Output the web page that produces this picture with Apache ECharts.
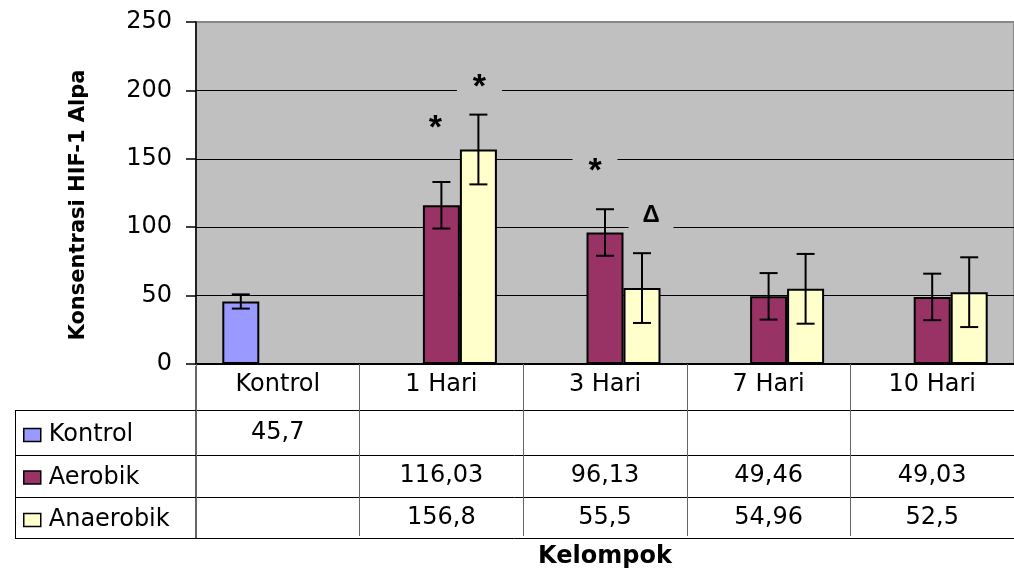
<!DOCTYPE html>
<html><head><meta charset="utf-8">
<script src="https://cdn.jsdelivr.net/npm/echarts@6/dist/echarts.min.js"></script>
<style>html,body{margin:0;padding:0;background:#fff}#c{width:1014px;height:574px}</style>
</head><body><div id="c"></div>
<script>
// ---- data ----
const categories = ['Kontrol', '1 Hari', '3 Hari', '7 Hari', '10 Hari'];
const seriesNames = ['Kontrol', 'Aerobik', 'Anaerobik'];
const kontrolValues = [45.7, null, null, null, null];
const aerobikValues = [null, 116.03, 96.13, 49.46, 49.03];
const anaerobikValues = [null, 156.8, 55.5, 54.96, 52.5];
const kontrolErr = [5.2, null, null, null, null];
const aerobikErr = [null, 17, 17, 17, 17];
const anaerobikErr = [null, 25.5, 25.5, 25.5, 25.5];
const yMin = 0, yMax = 250, yStep = 50;
const annotText = ['*', '*', '*', '\u0394'];
const annotCategory = [1, 1, 2, 2];
const annotSeries = [1, 2, 1, 2];
const annotLevel = [174, 204, 143, 109];

// ---- styles / layout ----
const FONT = 'DejaVu Sans';
const BAR_W = 37, CAP = 18;
const colors = ['#9999FF', '#993366', '#FFFFCC'];
const annotDx = [-6, 1, -10, 9];
const annotFont = [34, 34, 34, 24];
const annotDy = [3, 3, 3, 0];
const ROW_Y = [433, 476, 518];
const ROW_LINES = [410.5, 455.5, 497.5, 538.5];

const valueSets = [kontrolValues, aerobikValues, anaerobikValues];
const errSets = [kontrolErr, aerobikErr, anaerobikErr];

const errData = [];
const cellData = [];
valueSets.forEach((vals, k) => {
  vals.forEach((v, i) => {
    if (v == null) return;
    const e = errSets[k][i];
    if (e != null) errData.push([i, v - e, v + e, k]);
    cellData.push([i, v, k]);
  });
});
const annotData = annotText.map((t, j) => [annotCategory[j], annotLevel[j], annotSeries[j], j]);

const barSeries = seriesNames.map((name, k) => ({
  name, type: 'bar', data: valueSets[k], barWidth: BAR_W, barGap: '0%',
  itemStyle: { color: colors[k], borderColor: '#000', borderWidth: 2 },
  z: 2
}));

const chart = echarts.init(document.getElementById('c'), null, { renderer: 'canvas' });
chart.setOption({
  animation: false,
  backgroundColor: '#fff',
  grid: { left: 196, right: -2, top: 22, bottom: 208, show: true, backgroundColor: '#C0C0C0', borderColor: '#888', borderWidth: 2 },
  legend: {
    data: seriesNames, orient: 'vertical', left: 23, top: 423, padding: 0, itemGap: 18.5,
    itemWidth: 17, itemHeight: 13, icon: 'rect', selectedMode: false,
    itemStyle: { borderColor: '#000', borderWidth: 1.5 },
    textStyle: { fontFamily: FONT, fontSize: 24, color: '#000', padding: [0, 0, 0, 3] }
  },
  xAxis: {
    type: 'category', data: categories,
    axisLine: { lineStyle: { color: '#000', width: 2 } },
    axisTick: { show: true, length: 172, lineStyle: { color: '#666', width: 1 } },
    axisLabel: { fontFamily: FONT, fontSize: 24, color: '#000', margin: 9 },
    name: 'Kelompok', nameLocation: 'middle', nameGap: 181,
    nameTextStyle: { fontFamily: FONT, fontSize: 24, fontWeight: 'bold', color: '#000' }
  },
  yAxis: {
    type: 'value', min: yMin, max: yMax, interval: yStep,
    axisLine: { show: true, lineStyle: { color: '#000', width: 1.5 } },
    axisTick: { show: true, length: 10, lineStyle: { color: '#000', width: 1.5 } },
    axisLabel: { fontFamily: FONT, fontSize: 24, color: '#000', margin: 24 },
    splitLine: { show: true, showMaxLine: false, lineStyle: { color: '#000', width: 1 } }
  },
  graphic: [
    { type: 'text', x: 79, y: 205, rotation: Math.PI / 2,
      style: { text: 'Konsentrasi HIF-1 Alpa', fontFamily: FONT, fontSize: 21, fontWeight: 'bold', fill: '#000', textAlign: 'center', textVerticalAlign: 'middle' } },
    ...ROW_LINES.map(y => ({ type: 'line', shape: { x1: 15, y1: y, x2: 1014, y2: y }, style: { stroke: '#000', lineWidth: 1 } })),
    { type: 'line', shape: { x1: 15.5, y1: ROW_LINES[0], x2: 15.5, y2: ROW_LINES[3] }, style: { stroke: '#000', lineWidth: 1 } },
    { type: 'line', shape: { x1: 196, y1: 366, x2: 196, y2: ROW_LINES[3] }, style: { stroke: '#000', lineWidth: 1.2 } }
  ],
  series: [
    ...barSeries,
    {
      type: 'custom', name: 'err', data: errData, z: 3,
      encode: { x: 0, y: [1, 2] },
      renderItem: (params, api) => {
        const c = api.value(0), k = api.value(3);
        const lo = api.coord([c, api.value(1)]), hi = api.coord([c, api.value(2)]);
        const x = lo[0] + (k - 1) * BAR_W, h = CAP / 2;
        const st = { stroke: '#000', lineWidth: 2 };
        return { type: 'group', children: [
          { type: 'line', shape: { x1: x, y1: hi[1], x2: x, y2: lo[1] }, style: st },
          { type: 'line', shape: { x1: x - h, y1: hi[1], x2: x + h, y2: hi[1] }, style: st },
          { type: 'line', shape: { x1: x - h, y1: lo[1], x2: x + h, y2: lo[1] }, style: st }
        ] };
      }
    },
    {
      type: 'custom', name: 'annot', data: annotData, z: 4,
      encode: { x: 0, y: 1 },
      renderItem: (params, api) => {
        const c = api.value(0), k = api.value(2), j = api.value(3);
        const p = api.coord([c, api.value(1)]);
        const x = p[0] + (k - 1) * BAR_W + annotDx[j], y = p[1];
        return { type: 'group', children: [
          { type: 'rect', shape: { x: x - 22.5, y: y - 15, width: 45, height: 30 }, style: { fill: '#C0C0C0' } },
          { type: 'text', x: x, y: y + annotDy[j], style: { text: annotText[j], fontFamily: 'Liberation Sans', fontWeight: 'bold', fontSize: annotFont[j], fill: '#000', textAlign: 'center', textVerticalAlign: 'middle' } }
        ] };
      }
    },
    {
      type: 'custom', name: 'cells', data: cellData, z: 4, clip: false,
      encode: { x: 0, y: 1 },
      renderItem: (params, api) => {
        const c = api.value(0), v = api.value(1), r = api.value(2);
        const x = api.coord([c, 0])[0];
        return { type: 'text', x: x, y: ROW_Y[r], style: { text: String(v).replace('.', ','), fontFamily: FONT, fontSize: 24, fill: '#000', textAlign: 'center', textVerticalAlign: 'middle' } };
      }
    }
  ]
});
</script></body></html>
